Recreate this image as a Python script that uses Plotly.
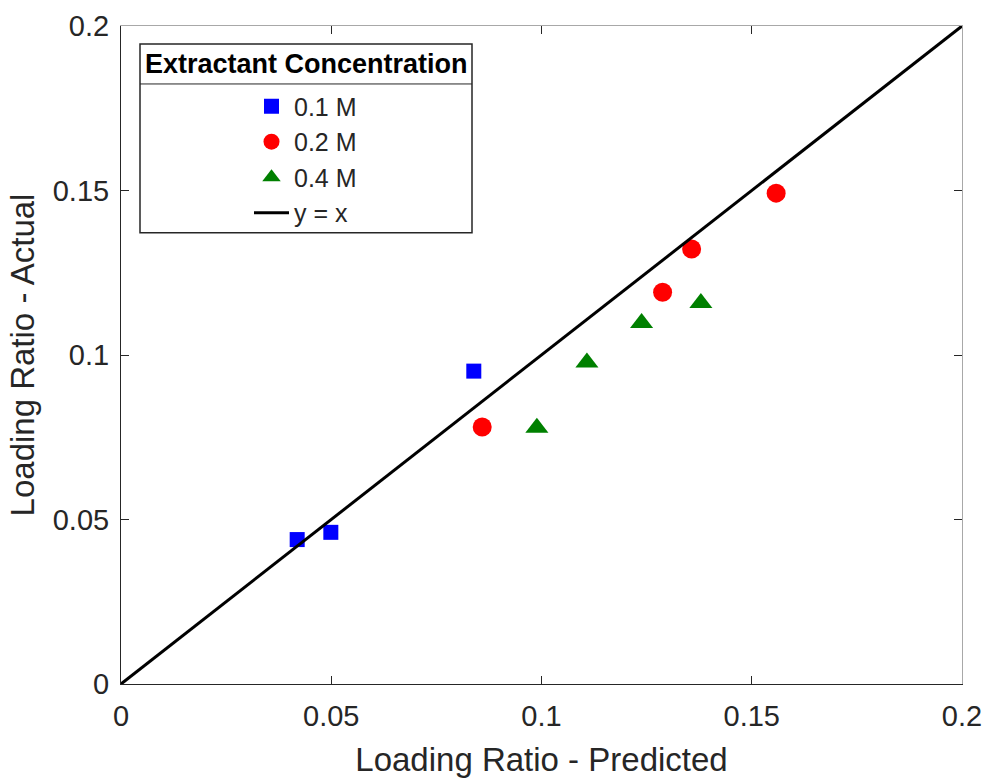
import plotly.graph_objects as go

# ---- data ----
x_01 = [0.0419, 0.0499, 0.0839]
y_01 = [0.0439, 0.0461, 0.0951]
x_02 = [0.0859, 0.1288, 0.1357, 0.1558]
y_02 = [0.0781, 0.1191, 0.1322, 0.1492]
x_04 = [0.0989, 0.1108, 0.1238, 0.1379]
y_04 = [0.0779, 0.0977, 0.1097, 0.1158]
line_x = [0, 0.2]
line_y = [0, 0.2]
tick_vals = [0, 0.05, 0.1, 0.15, 0.2]
tick_text = ["0", "0.05", "0.1", "0.15", "0.2"]

W, H = 987, 778
L, R, T, B = 121, 25, 26, 93.5
pw, ph = W - L - R, H - T - B

def px(x):
    return (x - L) / pw

def py(y):
    return (H - B - y) / ph

FONT = "Liberation Sans, Arial, sans-serif"

fig = go.Figure()
fig.add_trace(go.Scatter(x=x_01, y=y_01, mode="markers", name="0.1 M",
                         marker=dict(symbol="square", size=15, color="#0000FF")))
fig.add_trace(go.Scatter(x=x_02, y=y_02, mode="markers", name="0.2 M",
                         marker=dict(symbol="circle", size=19, color="#FF0000")))
fig.add_trace(go.Scatter(x=x_04, y=y_04, mode="markers", name="0.4 M",
                         marker=dict(symbol="triangle-up", size=20, color="#008000")))
fig.add_trace(go.Scatter(x=line_x, y=line_y, mode="lines", name="y = x",
                         line=dict(color="black", width=3)))
# invisible trace to activate top/right mirror axes
fig.add_trace(go.Scatter(x=[None], y=[None], xaxis="x2", yaxis="y2", showlegend=False))

axis_common = dict(range=[0, 0.2], tickvals=tick_vals, ticktext=tick_text,
                   ticks="inside", ticklen=8, tickcolor="#262626", tickwidth=1,
                   showgrid=False, zeroline=False, showline=True, automargin=False,
                   tickfont=dict(family=FONT, size=29, color="#262626"))

fig.update_layout(
    width=W, height=H,
    margin=dict(l=L, r=R, t=T, b=B, pad=0),
    paper_bgcolor="white", plot_bgcolor="white",
    font=dict(family=FONT, color="#262626"),
    xaxis=dict(**axis_common, linecolor="#262626", linewidth=1, ticklabelstandoff=6,
               title=dict(text="Loading Ratio - Predicted", font=dict(size=33, family=FONT, color="#262626"), standoff=20)),
    yaxis=dict(**axis_common, linecolor="#262626", linewidth=1, ticklabelstandoff=5,
               title=dict(text="Loading Ratio - Actual", font=dict(size=33, family=FONT, color="#262626"), standoff=8)),
    xaxis2=dict(range=[0, 0.2], tickvals=tick_vals, ticks="inside", ticklen=8, tickcolor="#262626",
                showticklabels=False, showgrid=False, zeroline=False, showline=True, automargin=False,
                linecolor="#a8a8a8", linewidth=1, overlaying="x", side="top", anchor="y"),
    yaxis2=dict(range=[0, 0.2], tickvals=tick_vals, ticks="inside", ticklen=8, tickcolor="#262626",
                showticklabels=False, showgrid=False, zeroline=False, showline=True, automargin=False,
                linecolor="#a8a8a8", linewidth=1, overlaying="y", side="right", anchor="x"),
    showlegend=True,
    legend=dict(x=px(249), y=py(83.5), xanchor="left", yanchor="top",
                bgcolor="rgba(0,0,0,0)", borderwidth=0, itemwidth=35,
                font=dict(family=FONT, size=25, color="#262626")),
    shapes=[
        dict(type="rect", xref="paper", yref="paper", x0=px(140), x1=px(472), y0=py(233), y1=py(44),
             line=dict(color="#262626", width=1.5), fillcolor="rgba(0,0,0,0)", layer="above"),
        dict(type="line", xref="paper", yref="paper", x0=px(140), x1=px(472), y0=py(84), y1=py(84),
             line=dict(color="#262626", width=1), layer="above"),
    ],
    annotations=[
        dict(text="<b>Extractant Concentration</b>", xref="paper", yref="paper",
             x=px(306), y=py(64), xanchor="center", yanchor="middle", showarrow=False,
             font=dict(family=FONT, size=27, color="black")),
    ],
)

fig.write_html("out.html")
